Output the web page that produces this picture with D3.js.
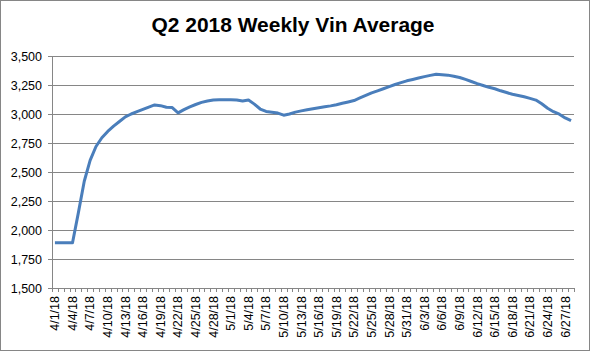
<!DOCTYPE html>
<html>
<head>
<meta charset="utf-8">
<script src="https://cdn.jsdelivr.net/npm/d3@7"></script>
<style>
  body { margin: 0; background: #fff; }
  svg { display: block; font-family: "Liberation Sans", Arial, sans-serif; }
  .axis path, .axis line { stroke: #868686; shape-rendering: crispEdges; }
  .axis text { fill: #000; font-size: 12.5px; }
  .grid line { stroke: #868686; shape-rendering: crispEdges; }
  .grid path { display: none; }
</style>
</head>
<body>
<div id="chart"></div>
<script>
// Size of the chart, same as the picture
const CHART_WIDTH = 590;
const CHART_HEIGHT = 351;
const MARGIN = { left: 52, right: 16, top: 56, bottom: 63 };
const TITLE = "Q2 2018 Weekly Vin Average";

// daily categories, 4/1/18 .. 6/28/18
const dates = [
  "4/1/18", "4/2/18", "4/3/18", "4/4/18", "4/5/18", "4/6/18", "4/7/18", "4/8/18", "4/9/18", "4/10/18",
  "4/11/18", "4/12/18", "4/13/18", "4/14/18", "4/15/18", "4/16/18", "4/17/18", "4/18/18", "4/19/18", "4/20/18",
  "4/21/18", "4/22/18", "4/23/18", "4/24/18", "4/25/18", "4/26/18", "4/27/18", "4/28/18", "4/29/18", "4/30/18",
  "5/1/18", "5/2/18", "5/3/18", "5/4/18", "5/5/18", "5/6/18", "5/7/18", "5/8/18", "5/9/18", "5/10/18",
  "5/11/18", "5/12/18", "5/13/18", "5/14/18", "5/15/18", "5/16/18", "5/17/18", "5/18/18", "5/19/18", "5/20/18",
  "5/21/18", "5/22/18", "5/23/18", "5/24/18", "5/25/18", "5/26/18", "5/27/18", "5/28/18", "5/29/18", "5/30/18",
  "5/31/18", "6/1/18", "6/2/18", "6/3/18", "6/4/18", "6/5/18", "6/6/18", "6/7/18", "6/8/18", "6/9/18",
  "6/10/18", "6/11/18", "6/12/18", "6/13/18", "6/14/18", "6/15/18", "6/16/18", "6/17/18", "6/18/18", "6/19/18",
  "6/20/18", "6/21/18", "6/22/18", "6/23/18", "6/24/18", "6/25/18", "6/26/18", "6/27/18", "6/28/18"
];

// weekly vin average
const vinAverage = [
  1890, 1890, 1890, 1890, 2150, 2420, 2600, 2720, 2795, 2850,
  2895, 2935, 2975, 3000, 3020, 3040, 3060, 3078, 3072, 3058,
  3055, 3010, 3038, 3062, 3082, 3100, 3112, 3120, 3122, 3122,
  3122, 3120, 3112, 3120, 3085, 3043, 3022, 3015, 3008, 2990,
  3000, 3016, 3027, 3037, 3046, 3054, 3062, 3070, 3080, 3092,
  3104, 3116, 3138, 3160, 3182, 3200, 3218, 3236, 3254, 3270,
  3286, 3298, 3310, 3322, 3333, 3342, 3338, 3335, 3326, 3315,
  3298, 3280, 3262, 3246, 3230, 3218, 3200, 3185, 3170, 3160,
  3148, 3135, 3120, 3088, 3050, 3020, 2998, 2966, 2942
];

// y axis ticks
const yTicks = [1500, 1750, 2000, 2250, 2500, 2750, 3000, 3250, 3500];
// every third day gets a label
const xLabels = dates.filter((d, i) => i % 3 === 0);

draw();

function draw() {
  let svg = d3
    .select("#chart")
    .append("svg")
    .attr("width", CHART_WIDTH)
    .attr("height", CHART_HEIGHT);

  // outer chart border
  svg.append("rect")
    .attr("x", 0.5).attr("y", 0.5)
    .attr("width", CHART_WIDTH - 1).attr("height", CHART_HEIGHT - 1)
    .attr("fill", "#fff")
    .attr("stroke", "#868686");

  // title
  svg.append("text")
    .attr("x", 293)
    .attr("y", 32)
    .attr("text-anchor", "middle")
    .attr("font-size", "19.5px")
    .attr("font-weight", "bold")
    .attr("textLength", 283)
    .attr("lengthAdjust", "spacingAndGlyphs")
    .text(TITLE);

  let xScale = d3
    .scaleBand()
    .domain(dates)
    .range([MARGIN.left, CHART_WIDTH - MARGIN.right])
    .padding(0);

  let yScale = d3
    .scaleLinear()
    .domain([1500, 3500])
    .range([CHART_HEIGHT - MARGIN.bottom, MARGIN.top]);

  let bottom = CHART_HEIGHT - MARGIN.bottom;

  // horizontal gridlines
  svg.append("g")
    .attr("class", "grid")
    .attr("transform", `translate(${MARGIN.left},0)`)
    .call(d3.axisLeft(yScale).tickValues(yTicks.slice(1))
      .tickSize(-(CHART_WIDTH - MARGIN.left - MARGIN.right)).tickFormat(""));

  // y axis
  svg.append("g")
    .attr("class", "axis")
    .attr("transform", `translate(${MARGIN.left},0)`)
    .call(d3.axisLeft(yScale).tickValues(yTicks).tickSize(4).tickPadding(6)
      .tickFormat(d3.format(",")))
    .call((g) => g.select(".domain").attr("d", `M0.5,${MARGIN.top}V${bottom}`));

  // x axis: tick marks on category boundaries
  let boundary = d3.scaleLinear()
    .domain([0, dates.length])
    .range(xScale.range());
  svg.append("g")
    .attr("class", "axis")
    .attr("transform", `translate(0,${bottom})`)
    .call(d3.axisBottom(boundary).tickValues(d3.range(dates.length + 1))
      .tickSize(4).tickSizeOuter(0).tickFormat(""));

  // x labels, rotated
  svg.append("g")
    .attr("class", "axis")
    .selectAll("text")
    .data(xLabels)
    .join("text")
    .attr("transform", (d) => `translate(${xScale(d) + xScale.bandwidth() / 2},${bottom + 8}) rotate(-90)`)
    .attr("dy", "0.35em")
    .attr("text-anchor", "end")
    .text((d) => d);

  // the line
  let lineGenerator = d3
    .line()
    .x((d, i) => xScale(dates[i]) + xScale.bandwidth() / 2)
    .y((d) => yScale(d));

  svg.append("path")
    .datum(vinAverage)
    .attr("fill", "none")
    .attr("stroke", "#4a7ebb")
    .attr("stroke-width", 3)
    .attr("stroke-linejoin", "round")
    .attr("d", lineGenerator);
}
</script>
</body>
</html>
